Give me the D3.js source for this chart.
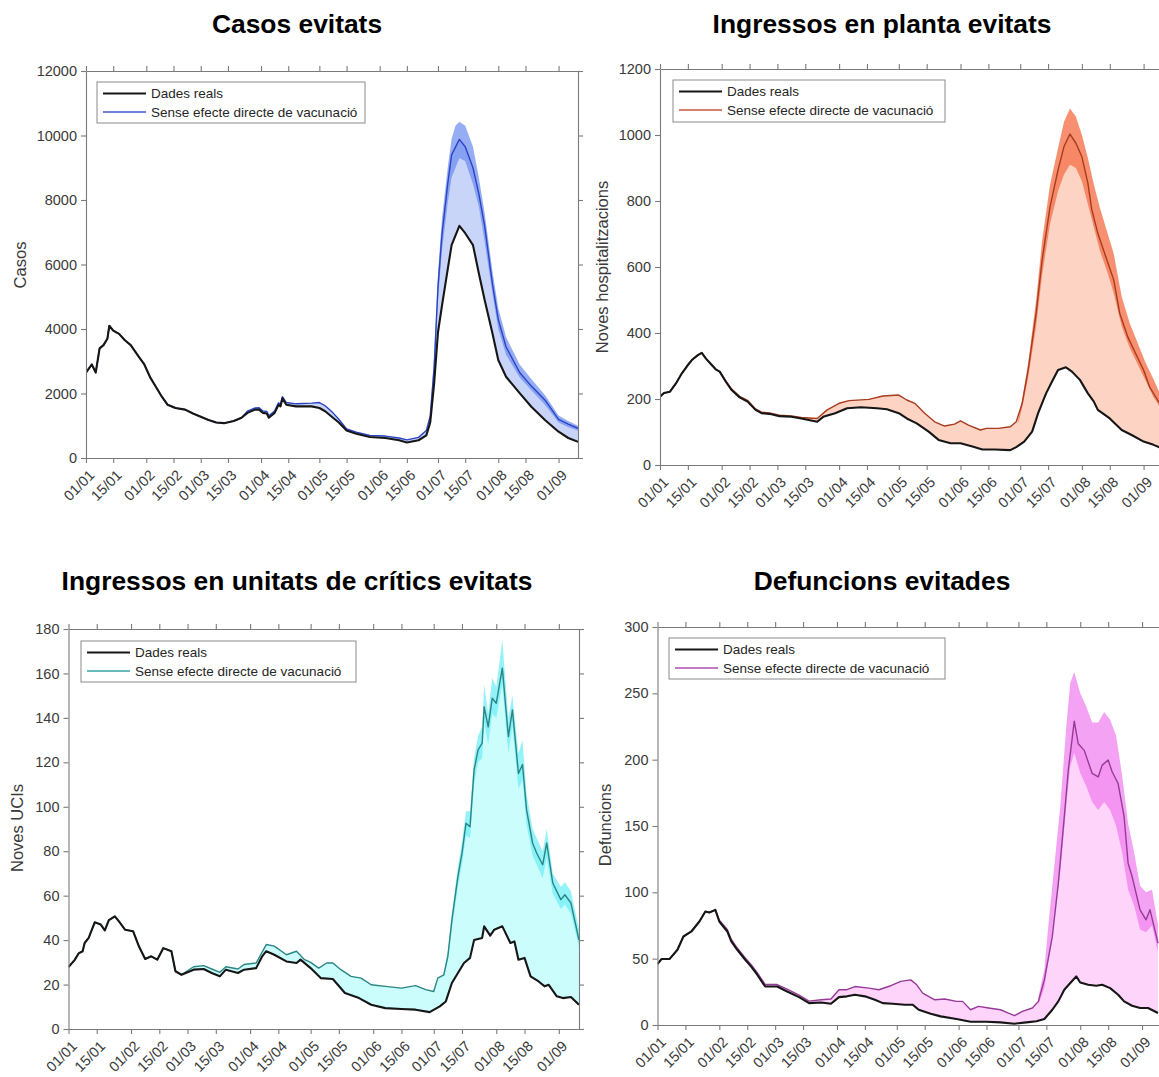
<!DOCTYPE html>
<html><head><meta charset="utf-8">
<script src="https://cdn.jsdelivr.net/npm/d3@7"></script>
<style>
body{margin:0;background:#fff}
text{font-family:Arial,"Liberation Sans",sans-serif}
</style>
</head><body>
<svg id="chart" width="1159" height="1077"></svg>
<script>
// ---------- tick labels (dates, dd/mm, year 2021) ----------
const tickLabels = ["01/01","15/01","01/02","15/02","01/03","15/03","01/04","15/04","01/05","15/05","01/06","15/06","01/07","15/07","01/08","15/08","01/09"];
const legendLabels = ["Dades reals","Sense efecte directe de vacunació"];
const titles = ["Casos evitats","Ingressos en planta evitats","Ingressos en unitats de crítics evitats","Defuncions evitades"];
const yLabels = ["Casos","Noves hospitalitzacions","Noves UCIs","Defuncions"];
const yTicks1 = [0,2000,4000,6000,8000,10000,12000];
const yTicks2 = [0,200,400,600,800,1000,1200];
const yTicks3 = [0,20,40,60,80,100,120,140,160,180];
const yTicks4 = [0,50,100,150,200,250,300];

// ---------- Casos (days since 01/01) ----------
const casosDays = [0,3,5,7,9,11,12,14,17,20,23,27,30,33,36,39,42,46,51,55,59,63,67,71,76,80,83,87,89,91,93,94,97,99,100,101,103,108,116,120,123,127,130,134,139,146,154,161,165,171,175,177,179,181,183,186,188,192,195,199,202,205,209,212,216,223,229,236,243,248,253];
const casosReal = [2650,2900,2650,3400,3500,3700,4100,3950,3850,3650,3500,3150,2900,2500,2200,1900,1650,1550,1500,1380,1280,1180,1100,1080,1150,1250,1400,1500,1500,1400,1380,1250,1400,1650,1600,1850,1650,1600,1600,1550,1450,1250,1100,850,750,650,620,550,480,550,700,1100,2300,3900,4700,5850,6600,7200,6970,6600,5730,4900,3870,3040,2520,2010,1590,1180,815,620,500];
const casosSense = [2650,2900,2650,3400,3500,3700,4100,3950,3850,3650,3500,3150,2900,2500,2200,1900,1650,1550,1500,1380,1280,1180,1100,1080,1150,1250,1450,1550,1560,1460,1440,1310,1460,1710,1660,1900,1720,1680,1700,1720,1620,1400,1200,900,800,700,680,620,560,640,850,1300,2800,5300,6900,8500,9400,9880,9650,9000,8200,7200,5400,4300,3450,2650,2230,1800,1200,1050,920];
const casosCIDays = [177,179,181,183,186,188,190,192,195,199,202,205,209,212,216,223,229,236,243,248,253];
const casosLo = [1250,2600,4900,6400,7900,8700,9000,9300,9200,8500,7800,6700,5100,4000,3200,2500,2100,1650,1100,950,850];
const casosHi = [1400,3100,5700,7400,9000,9900,10300,10430,10300,9650,8700,7600,5800,4650,3750,2900,2450,1950,1320,1150,1000];

// ---------- Noves hospitalitzacions ----------
const hospDaysReal = [0,2,5,8,11,14,16,19,21,23,26,28,30,33,36,40,44,48,51,55,60,66,71,79,82,88,94,101,109,114,120,124,129,135,140,146,151,157,162,168,176,179,183,187,190,194,197,200,204,207,211,215,218,220,226,232,237,243,248,252];
const hospReal = [207,218,222,247,278,303,318,333,340,323,303,290,283,253,227,205,192,167,157,155,148,146,141,131,146,157,172,175,172,169,157,141,126,101,76,66,66,56,47,47,45,54,71,101,157,217,253,288,296,283,258,217,192,167,141,106,91,71,61,51];
const hospDaysSense = [0,2,5,8,11,14,16,19,21,23,26,28,30,33,36,40,44,48,51,55,60,66,71,79,84,90,95,105,112,120,124,128,133,138,143,148,151,155,161,164,170,176,179,182,185,189,192,196,200,203,206,209,212,215,217,220,224,228,231,235,239,243,246,250,253];
const hospSense = [207,218,222,247,278,303,318,333,340,323,303,290,283,256,230,208,196,170,160,158,151,149,144,141,167,187,195,199,209,212,197,187,157,131,118,124,134,121,106,111,111,116,131,187,288,460,621,783,894,965,1003,975,934,854,773,702,631,561,460,389,338,288,237,197,170];
const hospCIDays = [180,182,185,189,192,196,200,203,206,209,212,215,218,221,225,228,232,236,240,244,248,253];
const hospLo = [125,175,265,420,575,730,830,880,910,900,860,790,720,650,580,520,420,355,305,255,205,160];
const hospHi = [135,200,310,500,680,850,960,1040,1080,1055,1000,930,850,780,700,640,510,430,370,310,260,190];

// ---------- Noves UCIs ----------
const uciDaysReal = [0,3,5,7,8,10,13,16,18,20,23,25,28,32,35,38,41,44,47,51,53,56,62,67,71,75,78,84,87,93,96,98,102,108,113,115,120,125,131,137,144,150,157,165,172,179,184,187,190,196,199,201,205,206,209,211,215,219,221,223,226,229,233,236,238,242,245,249,253];
const uciReal = [27.9,31,34,35,38.7,41,48,47,44.4,49,50.7,48.4,44.7,44,37,31.5,32.7,31.2,36.4,35,26,24.4,26.7,27,25.2,23.7,26.7,25.2,26.7,27.4,32.7,35,33.4,30.4,29.7,31.2,27.4,22.9,22.5,16.2,13.9,10.9,9.4,9,8.7,7.6,10.2,12.4,20.7,29.7,32,40,41,46.2,42,44.7,46.2,38.7,39.4,31.2,32,23.7,21.4,19.2,19.9,14.7,13.9,14.4,10.9];
const uciDaysSense = [0,3,5,7,8,10,13,16,18,20,23,25,28,32,35,38,41,44,47,51,53,56,62,67,71,75,78,84,87,93,98,102,108,113,117,120,124,128,131,135,140,145,150,157,165,172,177,181,183,186,188,190,193,195,197,199,201,203,205,206,208,210,212,215,218,220,223,225,227,230,232,235,237,240,244,246,249,253];
const uciSense = [27.9,31,34,35,38.7,41,48,47,44.4,49,50.7,48.4,44.7,44,37,31.5,32.7,31.2,36.4,35,26,24.4,28,28.5,27,25.5,28,27,29,29.7,38,37.3,33.4,35,31.2,30,27.4,29.7,29.7,26.7,23.7,22.9,19.9,19.2,18.4,19.5,17.7,16.9,22.9,24.4,32.7,49,68.7,79,92.6,91,116.6,125.6,128.6,145,136,148.9,146.6,162.4,131.6,143.6,115,119,98.7,83.7,79.2,73.9,83.7,65.7,58.2,60.4,56.7,40];
const uciCIDays = [186,188,190,193,195,197,199,201,203,205,206,208,210,212,215,218,220,223,225,227,230,232,235,237,240,244,246,249,253];
const uciLo = [23,31,45,64,74,87,86,110,120,122,138,128,142,140,155,124,136,108,112,92,78,74,68,77,61,54,56,52,37];
const uciHi = [26,35,52,73,84,98,98,122,132,136,155,142,158,154,175,140,150,124,130,106,90,86,80,90,70,64,66,62,45];

// ---------- Defuncions ----------
const defDaysReal = [0,2,6,10,13,17,21,24,26,29,31,35,37,40,44,47,50,54,60,65,71,76,82,87,91,95,99,104,109,113,118,124,128,131,137,142,150,157,165,172,179,185,190,194,198,201,204,207,210,212,216,220,223,227,231,234,238,242,246,251];
const defReal = [46,49.7,49.7,56.7,66.7,70.5,78,85.5,84.8,86.8,78,70.5,63,56.7,49.2,44,37.9,29,29,25.3,21,16.5,17,16,21,21.6,22.8,21.6,19,16.5,16,15.3,15.3,11.5,8.5,6.5,4.5,2.5,2.5,2,1,2,2.8,4.5,11.5,17.8,26.6,31.6,36.6,32,30.3,29.6,30.3,27.8,22.8,17.8,14.5,12.8,12.8,9];
const defDaysSense = [0,2,6,10,13,17,21,24,26,29,31,35,37,40,44,47,50,54,60,65,71,76,82,87,91,95,99,106,111,117,122,127,130,133,139,144,150,153,157,161,166,172,176,179,183,188,191,194,198,201,204,206,209,211,214,218,221,223,226,228,231,234,236,238,242,245,247,251];
const defSense = [46,49.7,49.7,56.7,66.7,70.5,78,85.5,84.8,86.8,79,72,64.5,58,50.5,45.5,39.5,30.5,30.5,27,22.5,18,19,19.6,26.6,26.6,29,27.8,26.6,29.6,32.9,34,30.3,24,19,19.6,17.8,17.8,11.5,14,12.8,11.5,9,7,10.3,12.8,17.8,34,66.7,106.8,157,192,229,212,207,189.6,187,195.9,199.7,190.9,182,157,122,111.9,86.8,79.3,86.8,61.7];
const defCIDays = [191,194,196,199,202,205,207,209,212,215,218,221,224,227,230,233,236,239,242,245,248,251];
const defLo = [15,28,48,80,115,165,195,205,190,180,168,162,168,162,150,130,102,90,72,70,75,55];
const defHi = [21,42,75,120,165,225,258,266,250,240,228,228,236,230,218,188,152,130,105,100,102,75];

// ---------- layout ----------
const START = Date.UTC(2021,0,1);
const toDate = d => new Date(START + d*86400000);
const parseTick = d3.utcParse("%d/%m/%Y");
const tickDates = tickLabels.map(t => parseTick(t + "/2021"));
const END_DAY = 253;

const panels = [
  {id:1, x0:86, x1:578, yTop:71, yBot:458, ymax:12000, yTicks:yTicks1,
   title:titles[0], tx:297, ty:33, ylab:yLabels[0], lx:20, ly:265,
   legend:{x:97,y:82,w:268,h:41},
   realDays:casosDays, real:casosReal, senseDays:casosDays, sense:casosSense,
   ciDays:casosCIDays, lo:casosLo, hi:casosHi,
   fill:"#c9d5f8", ci:"#6a8af0", ciOp:0.7, line:"#2a43c4", legLine:"#3d57c9"},
  {id:2, x0:660, x1:1163.5, yTop:69, yBot:465, ymax:1200, yTicks:yTicks2,
   title:titles[1], tx:882, ty:33, ylab:yLabels[1], lx:602, ly:267,
   legend:{x:673,y:80,w:272,h:42},
   realDays:hospDaysReal, real:hospReal, senseDays:hospDaysSense, sense:hospSense,
   ciDays:hospCIDays, lo:hospLo, hi:hospHi,
   fill:"#fdd4c4", ci:"#f5744e", ciOp:0.8, line:"#a83a1e", legLine:"#c8573a"},
  {id:3, x0:68.5, x1:579, yTop:629, yBot:1029, ymax:180, yTicks:yTicks3,
   title:titles[2], tx:297, ty:590, ylab:yLabels[2], lx:17, ly:828,
   legend:{x:81,y:641,w:275,h:41},
   realDays:uciDaysReal, real:uciReal, senseDays:uciDaysSense, sense:uciSense,
   ciDays:uciCIDays, lo:uciLo, hi:uciHi,
   fill:"#cbfdfd", ci:"#70eef5", ciOp:0.75, line:"#2a8585", legLine:"#35a3a3"},
  {id:4, x0:657.5, x1:1162, yTop:627, yBot:1025, ymax:300, yTicks:yTicks4,
   title:titles[3], tx:882, ty:590, ylab:yLabels[3], lx:605, ly:825,
   legend:{x:669,y:638,w:276,h:41},
   realDays:defDaysReal, real:defReal, senseDays:defDaysSense, sense:defSense,
   ciDays:defCIDays, lo:defLo, hi:defHi,
   fill:"#ffd4fb", ci:"#f07aee", ciOp:0.7, line:"#963a98", legLine:"#b04cb4"}
];

const svg = d3.select("#chart");
svg.append("rect").attr("width",1159).attr("height",1077).attr("fill","#fff");
const AX = "#7a7a7a", TXT = "#3a3a3a";

panels.forEach(p => {
  const x = d3.scaleUtc().domain([toDate(0), toDate(END_DAY)]).range([p.x0, p.x1]);
  const y = d3.scaleLinear().domain([0, p.ymax]).range([p.yBot, p.yTop]);
  const g = svg.append("g");

  const clipId = "clip" + p.id;
  svg.append("clipPath").attr("id", clipId).append("rect")
    .attr("x", p.x0).attr("y", p.yTop).attr("width", p.x1 - p.x0).attr("height", p.yBot - p.yTop);
  const plot = g.append("g").attr("clip-path", `url(#${clipId})`);

  const sensePts = p.senseDays.map((d,i) => [x(toDate(d)), y(p.sense[i])]);
  const realPts = p.realDays.map((d,i) => [x(toDate(d)), y(p.real[i])]);
  const line = d3.line();

  // fill between real and counterfactual
  plot.append("path")
    .attr("d", line(sensePts.concat(realPts.slice().reverse())) + "Z")
    .attr("fill", p.fill).attr("stroke", "none");

  // uncertainty band
  const ciData = p.ciDays.map((d,i) => ({d, lo:p.lo[i], hi:p.hi[i]}));
  plot.append("path").datum(ciData)
    .attr("d", d3.area().x(d => x(toDate(d.d))).y0(d => y(d.lo)).y1(d => y(d.hi)))
    .attr("fill", p.ci).attr("opacity", p.ciOp);

  plot.append("path").attr("d", line(sensePts))
    .attr("fill","none").attr("stroke", p.line).attr("stroke-width", 1.4).attr("stroke-linejoin","round");
  plot.append("path").attr("d", line(realPts))
    .attr("fill","none").attr("stroke", "#161616").attr("stroke-width", 2.1).attr("stroke-linejoin","round");

  // axes
  const styleAxis = sel => {
    sel.select(".domain").attr("stroke", AX).attr("stroke-width", 1.1);
    sel.selectAll(".tick line").attr("stroke", AX).attr("stroke-width", 1.1);
  };
  g.append("g").attr("transform", `translate(0,${p.yBot})`)
    .call(d3.axisBottom(x).tickValues(tickDates).tickSize(5).tickSizeOuter(0).tickFormat((d,i) => tickLabels[i]))
    .call(styleAxis)
    .call(s => s.selectAll("text")
      .attr("x", null).attr("y", null).attr("dy", null)
      .attr("text-anchor", "end")
      .attr("transform", "translate(9,18) rotate(-45)")
      .attr("fill", TXT).style("font-size", "14.5px"));
  g.append("g").attr("transform", `translate(0,${p.yTop})`)
    .call(d3.axisTop(x).tickValues(tickDates).tickSize(5).tickSizeOuter(0).tickFormat(""))
    .call(styleAxis);
  g.append("g").attr("transform", `translate(${p.x0},0)`)
    .call(d3.axisLeft(y).tickValues(p.yTicks).tickSize(5).tickSizeOuter(0).tickPadding(4).tickFormat(d3.format("d")))
    .call(styleAxis)
    .call(s => s.selectAll("text").attr("fill", TXT).style("font-size", "14.5px"));
  g.append("g").attr("transform", `translate(${p.x1},0)`)
    .call(d3.axisRight(y).tickValues(p.yTicks).tickSize(5).tickSizeOuter(0).tickFormat(""))
    .call(styleAxis);

  // title
  svg.append("text").attr("x", p.tx).attr("y", p.ty).attr("text-anchor","middle")
    .style("font-size","26.4px").style("font-weight","bold").attr("fill","#000").text(p.title);
  // y label
  svg.append("text").attr("transform", `translate(${p.lx + 6},${p.ly}) rotate(-90)`)
    .attr("text-anchor","middle").style("font-size","16.5px").attr("fill", TXT).text(p.ylab);

  // legend
  const L = p.legend;
  const lg = svg.append("g");
  lg.append("rect").attr("x", L.x).attr("y", L.y).attr("width", L.w).attr("height", L.h)
    .attr("fill","#fff").attr("stroke","#8a8a8a").attr("stroke-width",1);
  const rows = [{c:"#161616", w:2.1}, {c:p.legLine, w:1.3}];
  rows.forEach((r,i) => {
    const yy = L.y + 11.5 + i*18.5;
    lg.append("line").attr("x1", L.x + 6).attr("x2", L.x + 49).attr("y1", yy).attr("y2", yy)
      .attr("stroke", r.c).attr("stroke-width", r.w);
    lg.append("text").attr("x", L.x + 54).attr("y", yy + 4.8)
      .style("font-size","13.5px").attr("fill","#262626").text(legendLabels[i]);
  });
});
</script>
</body></html>
